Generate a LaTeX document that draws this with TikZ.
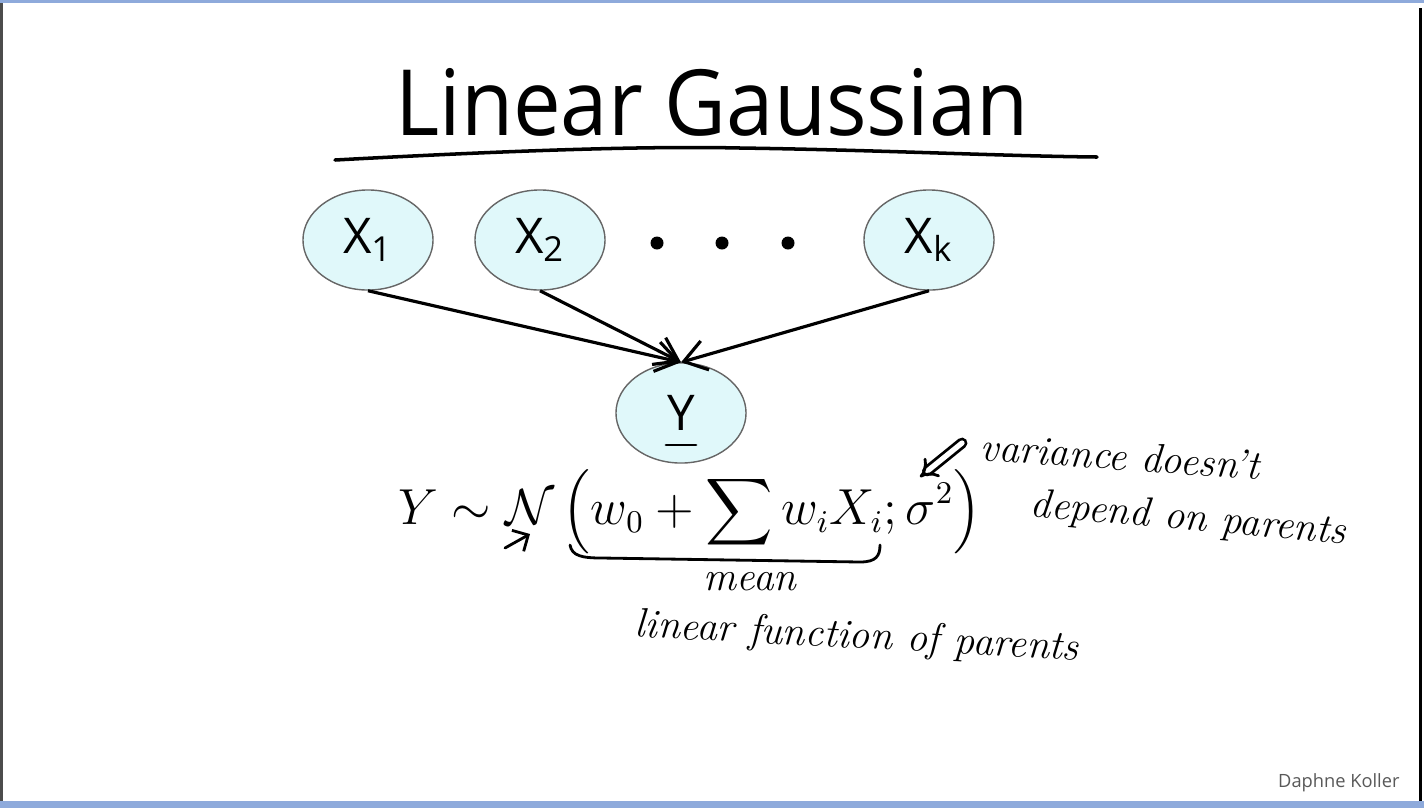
\documentclass[tikz,border=0pt]{standalone}
\usepackage{amsmath,amssymb}
\usepackage{fontspec}
\usepackage{tikz}
\usetikzlibrary{positioning, arrows.meta, shapes.geometric}
\newfontfamily\slidefont{Open Sans}
\newfontfamily\titlefont[FakeStretch=0.93]{Open Sans}
\definecolor{nodefill}{HTML}{E0F8FA}
\definecolor{frameblue}{HTML}{8EAADB}

\begin{document}
\begin{tikzpicture}[
  x=0.01cm, y=-0.01cm,
  var/.style={ellipse, draw=gray!80!black, fill=nodefill, minimum width=1.3cm,
    minimum height=1cm, inner sep=0pt, font=\slidefont\fontsize{14}{16}\selectfont},
  edge/.style={-{Straight Barb[length=2.2mm,width=3mm]}, line width=0.9pt},
  pen/.style={line width=0.8pt, line cap=round, line join=round},
  hand/.style={font=\itshape\fontsize{11.7}{14}\selectfont, inner sep=0pt},
]
  \useasboundingbox (0,0) rectangle (1424,808);

  % Slide frame
  \fill[white] (0,0) rectangle (1424,808);
  \fill[frameblue] (0,0) rectangle (1424,3);
  \fill[frameblue] (0,801) rectangle (1424,808);
  \draw[gray!60!black, line width=0.6pt] (1.5,3) -- (1.5,801);
  \draw[black, line width=0.8pt] (1420.5,8) -- (1420.5,801);

  % Title
  \node[font=\titlefont\fontsize{26}{30}\selectfont] (title) at (712,102) {Linear Gaussian};
  \draw[pen, line width=1pt] (335,160) .. controls (520,150) and (650,146) .. (740,148)
    .. controls (880,150) and (1000,156) .. (1097,157);

  % Parents
  \node[var] (x1) at (368,240) {X\textsubscript{1}};
  \node[var] (x2) at (540,240) {X\textsubscript{2}};
  \node[var] (xk) at (929,240) {X\textsubscript{k}};
  \foreach \x in {657,722,788}
    \fill (\x,243) circle (6.5);

  % Child
  \node[var] (y) at (681,413) {Y};
  \draw[pen] ([xshift=-0.15cm,yshift=-0.32cm]y.center) -- ++(30,0);

  % Edges
  \draw[edge] (x1.south) -- (y.north);
  \draw[edge] (x2.south) -- (y.north);
  \draw[edge] (xk.south) -- (y.north);

  % CPD
  \node[font=\fontsize{13.3}{16}\selectfont, inner sep=0pt] (cpd) at (690,512)
    {$\displaystyle Y \sim \mathcal{N}\left(w_0 + \sum w_i X_i; \sigma^2\right)$};

  % Annotations
  \draw[pen, -{Straight Barb[length=1.2mm]}] (505,548) -- (530,534);
  \draw[pen] (570,545) .. controls (572,556) and (582,558) .. (602,558)
    -- (860,562) .. controls (876,562) and (880,556) .. (880,545);
  \node[hand] (mean) at (750,582) {mean};
  \node[hand, rotate=-3] (lin) at (857,638) {linear function of parents};
  \draw[pen, double, double distance=1.5pt, -{Implies}] (962,443) -- (920,477);
  \node[hand, rotate=-4, anchor=west] (var) at (980,446) {variance doesn't};
  \node[hand, rotate=-5, anchor=west] (dep) at (1030,506) {depend on parents};

  % Footer
  \node[font=\slidefont\fontsize{5.2}{6}\selectfont, text=gray!70!black, anchor=east] (author) at (1412,783) {Daphne Koller};
\end{tikzpicture}
\end{document}
